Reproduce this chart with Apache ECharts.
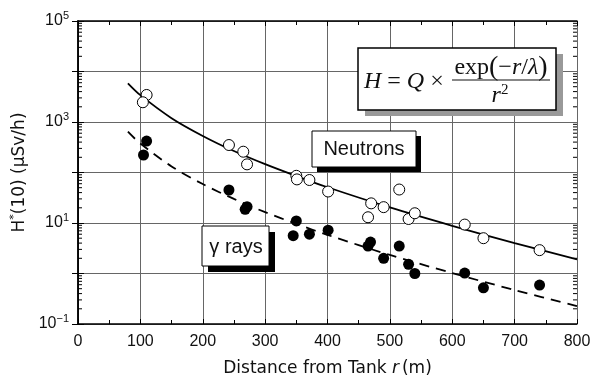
<!DOCTYPE html>
<html lang="en">
<head>
<meta charset="UTF-8">
<title>H*(10) vs distance</title>
<script src="https://cdn.jsdelivr.net/npm/echarts@6/dist/echarts.min.js"></script>
<style>
  html, body { margin: 0; padding: 0; background: #fff; }
  #main { width: 592px; height: 377px; }
</style>
</head>
<body>
<div id="main"></div>
<script>
// measured points (distance m, dose uSv/h)
var nDist = [110, 104, 242, 265, 271, 350, 351, 371, 401, 515, 470, 490, 465, 530, 540, 620, 650, 740];
var nDose = [3430, 2460, 350, 258, 145, 86, 73, 71, 42, 46, 24.5, 20.6, 13, 12, 15.6, 9.3, 5.0, 2.9];
var gDist = [110, 105, 242, 268, 271, 350, 345, 371, 401, 465, 469, 490, 515, 530, 540, 620, 650, 740];
var gDose = [420, 222, 45, 18.7, 21, 11, 5.6, 6.0, 7.2, 3.5, 4.2, 2.0, 3.5, 1.52, 1.0, 1.02, 0.52, 0.59];

// fitted curves
var curveDist = [80, 100, 150, 200, 250, 300, 350, 400, 500, 600, 700, 800];
var nCurve = [5840, 3400, 1190, 530, 266, 146, 85, 51, 20.3, 8.8, 4.0, 1.9];
var gCurve = [643, 374, 132, 59, 30, 16.4, 9.6, 5.8, 2.33, 1.02, 0.47, 0.227];

// log minor ticks
var decades = [0.1, 1, 10, 100, 1000, 10000];
var minorMult = [2, 3, 4, 5, 6, 7, 8, 9];

function pairs(xs, ys) {
    var out = [];
    for (var i = 0; i < xs.length; i++) out.push([xs[i], ys[i]]);
    return out;
}
var minorData = [];
decades.forEach(function (d) {
    minorMult.forEach(function (m) { minorData.push([0, d * m]); });
});

var myChart = echarts.init(document.getElementById('main'));

var tickFont = 'Liberation Sans';
var nameFont = 'DejaVu Sans';

var option = {
    animation: false,
    backgroundColor: '#fff',
    grid: { left: 78, right: 15, top: 21, bottom: 53, outerBoundsMode: 'none' },
    xAxis: [{
        type: 'value', min: 0, max: 800, interval: 100,
        position: 'bottom',
        name: '{a|Distance from Tank }{i|r}{a|(m)}',
        nameLocation: 'middle', nameGap: 36,
        nameTextStyle: {
            rich: {
                a: { fontFamily: nameFont, fontSize: 17, color: '#111' },
                i: { fontFamily: nameFont, fontSize: 17, fontStyle: 'italic', color: '#111', padding: [0, 3, 0, 0] }
            }
        },
        axisLine: { lineStyle: { color: '#000', width: 1.5 } },
        axisTick: { inside: true, length: 5, lineStyle: { color: '#000' } },
        minorTick: { show: true, splitNumber: 2, length: 4, lineStyle: { color: '#000' } },
        axisLabel: { fontFamily: tickFont, fontSize: 16, color: '#111', margin: 10 },
        splitLine: { show: true, lineStyle: { color: '#666', width: 1 } }
    }, {
        type: 'value', min: 0, max: 800, interval: 100,
        position: 'top',
        axisLine: { lineStyle: { color: '#000', width: 1.5 } },
        axisTick: { inside: true, length: 5, lineStyle: { color: '#000' } },
        minorTick: { show: true, splitNumber: 2, length: 4, lineStyle: { color: '#000' } },
        axisLabel: { show: false },
        splitLine: { show: false }
    }],
    yAxis: [{
        type: 'log', logBase: 10, min: 0.1, max: 100000,
        position: 'left',
        name: '{a|H}{s|*}{a|(10) (μSv/h)}',
        nameLocation: 'middle', nameGap: 46, nameRotate: 90,
        nameTextStyle: {
            rich: {
                a: { fontFamily: nameFont, fontSize: 17, color: '#111', lineHeight: 22 },
                s: { fontFamily: nameFont, fontSize: 11, color: '#111', verticalAlign: 'top' }
            }
        },
        axisLine: { lineStyle: { color: '#000', width: 1.5 } },
        axisTick: { inside: true, length: 6, lineStyle: { color: '#000' } },
        axisLabel: {
            margin: 9,
            formatter: function (v) {
                var e = Math.round(Math.log(v) / Math.LN10);
                if (e % 2 === 0) return '';
                return '{b|10}{s|' + (e < 0 ? '\u2212' + (-e) : e) + '}';
            },
            rich: {
                b: { fontFamily: tickFont, fontSize: 16, color: '#111', lineHeight: 22 },
                s: { fontFamily: tickFont, fontSize: 11, color: '#111', verticalAlign: 'top' }
            }
        },
        splitLine: { show: true, lineStyle: { color: '#666', width: 1 } }
    }, {
        type: 'log', logBase: 10, min: 0.1, max: 100000,
        position: 'right',
        axisLine: { lineStyle: { color: '#000', width: 1.5 } },
        axisTick: { inside: true, length: 6, lineStyle: { color: '#000' } },
        axisLabel: { show: false },
        splitLine: { show: false }
    }],
    series: [{
        name: 'minor ticks',
        type: 'custom',
        silent: true,
        xAxisIndex: 0, yAxisIndex: 0,
        data: minorData,
        renderItem: function (params, api) {
            var v = api.value(1);
            var l = api.coord([0, v]);
            var r = api.coord([800, v]);
            var st = { stroke: '#000', lineWidth: 1 };
            return {
                type: 'group',
                children: [
                    { type: 'line', shape: { x1: l[0], y1: l[1], x2: l[0] + 4, y2: l[1] }, style: st },
                    { type: 'line', shape: { x1: r[0] - 4, y1: r[1], x2: r[0], y2: r[1] }, style: st }
                ]
            };
        }
    }, {
        name: 'Neutron fit',
        type: 'line',
        data: pairs(curveDist, nCurve),
        smooth: 0.3,
        showSymbol: false,
        lineStyle: { color: '#000', width: 1.8 },
        z: 3
    }, {
        name: 'Gamma fit',
        type: 'line',
        data: pairs(curveDist, gCurve),
        smooth: 0.3,
        showSymbol: false,
        lineStyle: { color: '#000', width: 1.8, type: [10, 7] },
        z: 3
    }, {
        name: 'Neutrons',
        type: 'scatter',
        data: pairs(nDist, nDose),
        symbol: 'circle',
        symbolSize: 11,
        itemStyle: { color: '#fff', borderColor: '#000', borderWidth: 1, opacity: 1 },
        z: 4
    }, {
        name: 'γ rays',
        type: 'scatter',
        data: pairs(gDist, gDose),
        symbol: 'circle',
        symbolSize: 11,
        itemStyle: { color: '#000', opacity: 1 },
        z: 4
    }],
    graphic: [
        // formula box
        { type: 'rect', z: 100, shape: { x: 365, y: 54, width: 198, height: 62 }, style: { fill: '#999' } },
        { type: 'rect', z: 101, shape: { x: 358, y: 48, width: 198, height: 62 }, style: { fill: '#fff', stroke: '#000', lineWidth: 1.5 } },
        {
            type: 'text', z: 102, x: 364, y: 82,
            style: {
                text: '{i|H} = {i|Q} \u00d7',
                fontFamily: 'Liberation Serif', fontSize: 24, fill: '#111',
                verticalAlign: 'middle',
                rich: { i: { fontFamily: 'Liberation Serif', fontSize: 24, fontStyle: 'italic', fill: '#111' } }
            }
        },
        {
            type: 'text', z: 102, x: 501, y: 68,
            style: {
                text: 'exp{p|(}\u2212{i|r}/{i|\u03bb}{p|)}',
                fontFamily: 'Liberation Serif', fontSize: 24, fill: '#111',
                align: 'center', verticalAlign: 'middle',
                rich: {
                    i: { fontFamily: 'Liberation Serif', fontSize: 24, fontStyle: 'italic', fill: '#111' },
                    p: { fontFamily: 'Liberation Serif', fontSize: 28, fill: '#111' }
                }
            }
        },
        { type: 'line', z: 102, shape: { x1: 452, y1: 80, x2: 550, y2: 80 }, style: { stroke: '#111', lineWidth: 1.2 } },
        {
            type: 'text', z: 102, x: 500, y: 96,
            style: {
                text: '{i|r}{s|2}',
                align: 'center', verticalAlign: 'middle',
                rich: {
                    i: { fontFamily: 'Liberation Serif', fontSize: 24, fontStyle: 'italic', fill: '#111', lineHeight: 26 },
                    s: { fontFamily: 'Liberation Serif', fontSize: 15, fill: '#111', verticalAlign: 'top' }
                }
            }
        },
        // Neutrons label
        { type: 'rect', z: 100, shape: { x: 317, y: 136, width: 104, height: 36 }, style: { fill: '#000' } },
        { type: 'rect', z: 101, shape: { x: 312, y: 131, width: 104, height: 36 }, style: { fill: '#fff', stroke: '#000', lineWidth: 1 } },
        {
            type: 'text', z: 102, x: 364, y: 149,
            style: { text: 'Neutrons', fontFamily: tickFont, fontSize: 20, fill: '#111', align: 'center', verticalAlign: 'middle' }
        },
        // gamma label
        { type: 'rect', z: 100, shape: { x: 208, y: 232, width: 67, height: 40 }, style: { fill: '#000' } },
        { type: 'rect', z: 101, shape: { x: 202, y: 226, width: 67, height: 40 }, style: { fill: '#fff', stroke: '#000', lineWidth: 1 } },
        {
            type: 'text', z: 102, x: 236, y: 247,
            style: { text: '\u03b3 rays', fontFamily: tickFont, fontSize: 20, fill: '#111', align: 'center', verticalAlign: 'middle' }
        }
    ]
};

myChart.setOption(option);
</script>
</body>
</html>
